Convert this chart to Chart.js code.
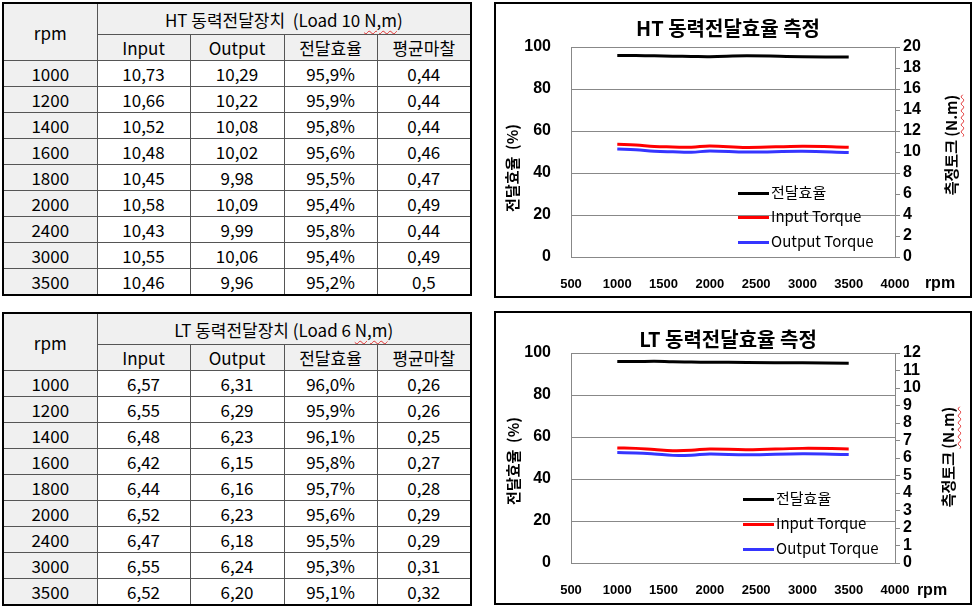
<!DOCTYPE html>
<html>
<head>
<meta charset="utf-8">
<script src="https://cdn.jsdelivr.net/npm/chart.js"></script>
<style>
body{margin:0;background:#fff;width:973px;height:607px;position:relative;overflow:hidden;
  font-family:"Noto Sans CJK KR","Noto Sans",sans-serif;color:#000;}
table{position:absolute;left:2px;width:470px;border-collapse:collapse;border:2px solid #000;
  table-layout:fixed;font-size:17px;}
td{border:1px solid #555;text-align:center;vertical-align:middle;padding:0;line-height:1;}
td.h{background:#f0f0f0;}
tr.r1 td{height:30px;}
tr.r2 td{height:25px;}
tr.d td{height:25px;}
.wavy{text-decoration:underline wavy #e03030;text-decoration-thickness:1px;text-underline-offset:3px;}
.box{position:absolute;left:494px;width:474px;border:2px solid #000;background:#fff;}
.box canvas{position:absolute;left:0;top:0;}
.title{position:absolute;transform:translate(-50%,-50%);font-weight:bold;font-size:20px;white-space:nowrap;color:#000;}
.ytitle{position:absolute;transform:translate(-50%,-50%) rotate(-90deg);font-weight:bold;font-size:15px;white-space:pre;color:#000;}
.rpm{position:absolute;transform:translate(-50%,-50%);font-family:"Liberation Sans",Arial,sans-serif;font-weight:bold;font-size:16px;color:#000;}
.leg{position:absolute;font-size:15px;white-space:nowrap;color:#000;line-height:18px;}
.leg span.ln{display:inline-block;width:31px;height:3px;vertical-align:middle;margin-right:2px;}
</style>
</head>
<body>

<table id="tblHT" style="top:2px"></table>
<table id="tblLT" style="top:312px"></table>

<div class="box" style="top:2px;height:292px"><canvas id="chartHT" width="474" height="292"></canvas></div>
<div class="box" style="top:311px;height:290px"><canvas id="chartLT" width="474" height="290"></canvas></div>

<div class="title" style="left:728px;top:27px">HT 동력전달효율 측정</div>
<div class="title" style="left:728px;top:338px">LT 동력전달효율 측정</div>

<div class="ytitle" style="left:511px;top:168px">전달효율  (%)</div>
<div class="ytitle" style="left:950px;top:145px">측정토크 <span class="wavy">(N.m)</span></div>
<div class="ytitle" style="left:512px;top:461px">전달효율  (%)</div>
<div class="ytitle" style="left:947px;top:457px">측정토크 <span class="wavy">(N.m)</span></div>

<div class="rpm" style="left:940px;top:283px">rpm</div>
<div class="rpm" style="left:932px;top:590px">rpm</div>

<script>
// 데이터
const rpm = [1000, 1200, 1400, 1600, 1800, 2000, 2400, 3000, 3500];

const htInput  = [10.73, 10.66, 10.52, 10.48, 10.45, 10.58, 10.43, 10.55, 10.46];
const htOutput = [10.29, 10.22, 10.08, 10.02, 9.98, 10.09, 9.99, 10.06, 9.96];
const htEff    = [95.9, 95.9, 95.8, 95.6, 95.5, 95.4, 95.8, 95.4, 95.2];
const htFric   = [0.44, 0.44, 0.44, 0.46, 0.47, 0.49, 0.44, 0.49, 0.5];

const ltInput  = [6.57, 6.55, 6.48, 6.42, 6.44, 6.52, 6.47, 6.55, 6.52];
const ltOutput = [6.31, 6.29, 6.23, 6.15, 6.16, 6.23, 6.18, 6.24, 6.20];
const ltEff    = [96.0, 95.9, 96.1, 95.8, 95.7, 95.6, 95.5, 95.3, 95.1];
const ltFric   = [0.26, 0.26, 0.25, 0.27, 0.28, 0.29, 0.29, 0.31, 0.32];

const colHeaders = ['Input', 'Output', '전달효율', '평균마찰'];
const seriesNames = ['전달효율', 'Input Torque', 'Output Torque'];
const seriesColors = ['#000000', '#ff0000', '#3535ff'];

// 표 만들기
function comma(s) { return String(s).replace('.', ','); }

function buildTable(id, title, inp, out, eff, fric) {
    let html = '<colgroup><col style="width:94px"><col style="width:93px"><col style="width:94px"><col style="width:93px"><col style="width:94px"></colgroup>';
    html += '<tr class="r1"><td class="h" rowspan="2">rpm</td><td class="h" colspan="4">' + title + '</td></tr>';
    html += '<tr class="r2">' + colHeaders.map(h => '<td class="h">' + h + '</td>').join('') + '</tr>';
    for (let i = 0; i < rpm.length; i++) {
        html += '<tr class="d"><td class="h">' + rpm[i] + '</td>' +
            '<td>' + comma(inp[i].toFixed(2)) + '</td>' +
            '<td>' + comma(out[i].toFixed(2)) + '</td>' +
            '<td>' + comma(eff[i].toFixed(1)) + '%</td>' +
            '<td>' + comma(fric[i]) + '</td></tr>';
    }
    document.getElementById(id).innerHTML = html;
}

buildTable('tblHT', 'HT 동력전달장치&nbsp;&nbsp;(Load 10 <span class="wavy">N,m</span>)', htInput, htOutput, htEff, htFric);
buildTable('tblLT', 'LT 동력전달장치 (Load 6 <span class="wavy">N,m</span>)', ltInput, ltOutput, ltEff, ltFric);

// 그래프
function pts(arr) { return rpm.map((r, i) => ({ x: r, y: arr[i] })); }

function makeChart(canvasId, eff, inp, out, rightMax, rightStep, padTop, xHeight) {
    const grey = '#888888';
    const tickFont = { family: '"Liberation Sans", Arial, sans-serif', size: 16, weight: 'bold' };
    const series = [eff, inp, out];
    const data = {
        datasets: series.map((s, i) => ({
            label: seriesNames[i],
            data: pts(s),
            yAxisID: i === 0 ? 'y' : 'y1',
            borderColor: seriesColors[i],
            borderWidth: 3,
            pointRadius: 0,
            tension: 0.4,
            fill: false
        }))
    };
    const config = {
        type: 'line',
        data: data,
        options: {
            responsive: false,
            animation: false,
            devicePixelRatio: 1,
            layout: { padding: { top: padTop, left: 0, right: 0, bottom: 0 } },
            plugins: { legend: { display: false }, tooltip: { enabled: false } },
            scales: {
                x: {
                    type: 'linear',
                    min: 500, max: 4000,
                    grid: { display: false },
                    border: { display: true, color: grey },
                    ticks: { stepSize: 500, padding: 12, color: '#000', maxRotation: 0, autoSkip: false,
                        callback: v => String(v),
                        font: { family: '"Liberation Sans", Arial, sans-serif', size: 13, weight: 'bold' } },
                    afterFit: s => { s.height = xHeight; }
                },
                y: {
                    position: 'left',
                    min: 0, max: 100,
                    grid: { color: grey, drawTicks: false },
                    border: { display: true, color: grey },
                    ticks: { stepSize: 20, padding: 20, color: '#000', font: tickFont, autoSkip: false },
                    afterFit: s => { s.width = 75; }
                },
                y1: {
                    position: 'right',
                    min: 0, max: rightMax,
                    grid: { drawOnChartArea: false, color: grey, tickLength: 5 },
                    border: { display: true, color: grey },
                    ticks: { stepSize: rightStep, padding: 3, color: '#000', font: tickFont, autoSkip: false },
                    afterFit: s => { s.width = 75; }
                }
            }
        }
    };
    const el = document.getElementById(canvasId);
    el.chart = new Chart(el, config);
    return el.chart;
}

function makeLegend(chart, left, tops) {
    chart.data.datasets.forEach((ds, i) => {
        const d = document.createElement('div');
        d.className = 'leg';
        d.style.left = left + 'px';
        d.style.top = (tops[i] - 9) + 'px';
        d.innerHTML = '<span class="ln" style="background:' + ds.borderColor + '"></span>' + ds.label;
        document.body.appendChild(d);
    });
}

const cHT = makeChart('chartHT', htEff, htInput, htOutput, 20, 2, 43, 39);
const cLT = makeChart('chartLT', ltEff, ltInput, ltOutput, 12, 1, 40, 40);

makeLegend(cHT, 738, [192, 216, 241]);
makeLegend(cLT, 743, [498, 523, 548]);
</script>
</body>
</html>
